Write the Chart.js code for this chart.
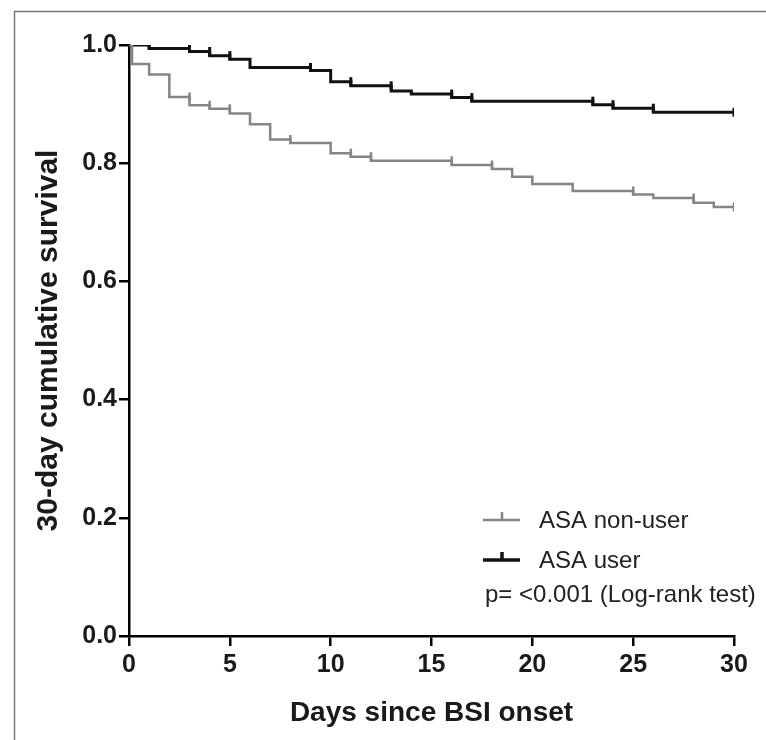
<!DOCTYPE html>
<html>
<head>
<meta charset="utf-8">
<script src="https://cdn.jsdelivr.net/npm/chart.js@4.4.1/dist/chart.umd.min.js"></script>
<style>
  html, body { margin: 0; padding: 0; background: #fff; }
  #wrap { width: 766px; height: 740px; }
</style>
</head>
<body>
<div id="wrap"><canvas id="kmChart" width="766" height="740"></canvas></div>
<script>
// Kaplan-Meier estimates (day, survival after the drop)
const userDays = [0, 1, 3, 4, 5, 6, 9, 10, 11, 13, 14, 16, 17, 23, 24, 26, 30];
const userSurv = [1.0, 0.994, 0.989, 0.982, 0.976, 0.962, 0.957, 0.938, 0.931, 0.922, 0.917, 0.911, 0.905, 0.899, 0.893, 0.886, 0.886];
const userCensored = [1, 3, 4, 5, 9, 11, 13, 16, 17, 23, 24, 26, 30];

const nonUserDays = [0, 0.15, 1, 2, 3, 4, 5, 6, 7, 8, 10, 11, 12, 16, 18, 19, 20, 22, 25, 26, 28, 29, 30];
const nonUserSurv = [1.0, 0.968, 0.950, 0.912, 0.898, 0.892, 0.884, 0.866, 0.840, 0.834, 0.817, 0.811, 0.804, 0.797, 0.790, 0.777, 0.765, 0.753, 0.747, 0.741, 0.733, 0.726, 0.726];
const nonUserCensored = [3, 4, 5, 8, 11, 12, 16, 18, 25, 28, 30];

const xTicks = [0, 5, 10, 15, 20, 25, 30];
const yTicks = [0, 0.2, 0.4, 0.6, 0.8, 1.0];

const legendLabels = ['ASA non-user', 'ASA user'];
const pValueText = 'p= <0.001 (Log-rank test)';

const userColor = '#111111';
const nonUserColor = '#858585';

// Build {x, y} points for the step line
function toPoints(days, surv) {
  return days.map((d, i) => ({ x: d, y: surv[i] }));
}

// Survival just before time t (where the censor tick sits)
function survBefore(days, surv, t) {
  let s = surv[0];
  for (let i = 0; i < days.length; i++) {
    if (days[i] < t) s = surv[i];
  }
  return s;
}

function censorPoints(days, surv, censored) {
  return censored.map(t => ({ x: t, y: survBefore(days, surv, t) }));
}

// Outer frame of the figure
const framePlugin = {
  id: 'frame',
  beforeDraw(chart) {
    const ctx = chart.ctx;
    ctx.save();
    ctx.fillStyle = '#ffffff';
    ctx.fillRect(0, 0, chart.width, chart.height);
    ctx.strokeStyle = '#7a7a7a';
    ctx.lineWidth = 1.5;
    ctx.strokeRect(14.5, 11.5, chart.width + 20, chart.height + 20);
    ctx.restore();
  }
};

// Legend with the little censor tick, plus the p-value line
const legendPlugin = {
  id: 'kmLegend',
  afterDraw(chart) {
    const ctx = chart.ctx;
    const colors = [nonUserColor, userColor];
    const rows = [520, 560];
    ctx.save();
    ctx.font = '24px "Liberation Sans", Arial, sans-serif';
    ctx.textBaseline = 'middle';
    ctx.fillStyle = '#222';
    rows.forEach((y, i) => {
      ctx.strokeStyle = colors[i];
      ctx.lineWidth = i === 1 ? 3.5 : 2.5;
      ctx.beginPath();
      ctx.moveTo(483, y);
      ctx.lineTo(520, y);
      ctx.moveTo(502, y);
      ctx.lineTo(502, y - 8);
      ctx.stroke();
      ctx.fillText(legendLabels[i], 539, y + 1);
    });
    ctx.fillText(pValueText, 485, 595);
    ctx.restore();
  }
};

const ctx = document.getElementById('kmChart').getContext('2d');
new Chart(ctx, {
  type: 'line',
  data: {
    datasets: [
      {
        label: legendLabels[0],
        data: toPoints(nonUserDays, nonUserSurv),
        borderColor: nonUserColor,
        borderWidth: 2.5,
        stepped: 'before',
        pointRadius: 0,
        fill: false
      },
      {
        label: legendLabels[1],
        data: toPoints(userDays, userSurv),
        borderColor: userColor,
        borderWidth: 3,
        stepped: 'before',
        pointRadius: 0,
        fill: false
      },
      {
        label: 'non-user censored',
        data: censorPoints(nonUserDays, nonUserSurv, nonUserCensored),
        showLine: false,
        pointStyle: 'line',
        pointRotation: 90,
        pointRadius: 4.5,
        pointBorderWidth: 2.5,
        pointBorderColor: nonUserColor
      },
      {
        label: 'user censored',
        data: censorPoints(userDays, userSurv, userCensored),
        showLine: false,
        pointStyle: 'line',
        pointRotation: 90,
        pointRadius: 4.5,
        pointBorderWidth: 3,
        pointBorderColor: userColor
      }
    ]
  },
  options: {
    responsive: false,
    animation: false,
    layout: { padding: { left: 0, top: 45, right: 32, bottom: 0 } },
    plugins: {
      legend: { display: false },
      tooltip: { enabled: false }
    },
    scales: {
      x: {
        type: 'linear',
        min: 0,
        max: 30,
        afterBuildTicks: scale => { scale.ticks = xTicks.map(v => ({ value: v })); },
        afterFit: scale => { scale.height = 104; },
        grid: { drawOnChartArea: false, drawTicks: true, tickLength: 10, color: '#000', lineWidth: 2.5 },
        border: { display: true, color: '#000', width: 2.5 },
        ticks: {
          autoSkip: false,
          maxRotation: 0,
          padding: 4,
          color: '#1a1a1a',
          font: { family: '"Liberation Sans", Arial, sans-serif', size: 25, weight: 'bold' }
        },
        title: {
          display: true,
          text: 'Days since BSI onset',
          color: '#1a1a1a',
          padding: { top: 0, bottom: 10 },
          font: { family: '"Liberation Sans", Arial, sans-serif', size: 28, weight: 'bold' }
        }
      },
      y: {
        type: 'linear',
        min: 0,
        max: 1.0,
        afterBuildTicks: scale => { scale.ticks = yTicks.map(v => ({ value: v })); },
        afterFit: scale => { scale.width = 129; },
        grid: { drawOnChartArea: false, drawTicks: true, tickLength: 10, color: '#000', lineWidth: 2.5 },
        border: { display: true, color: '#000', width: 2.5 },
        ticks: {
          padding: 2,
          color: '#1a1a1a',
          callback: v => v.toFixed(1),
          font: { family: '"Liberation Sans", Arial, sans-serif', size: 25, weight: 'bold' }
        },
        title: {
          display: true,
          text: '30-day cumulative survival',
          color: '#1a1a1a',
          padding: { top: 31, bottom: 0 },
          font: { family: '"Liberation Sans", Arial, sans-serif', size: 30, weight: 'bold' }
        }
      }
    }
  },
  plugins: [framePlugin, legendPlugin]
});
</script>
</body>
</html>
